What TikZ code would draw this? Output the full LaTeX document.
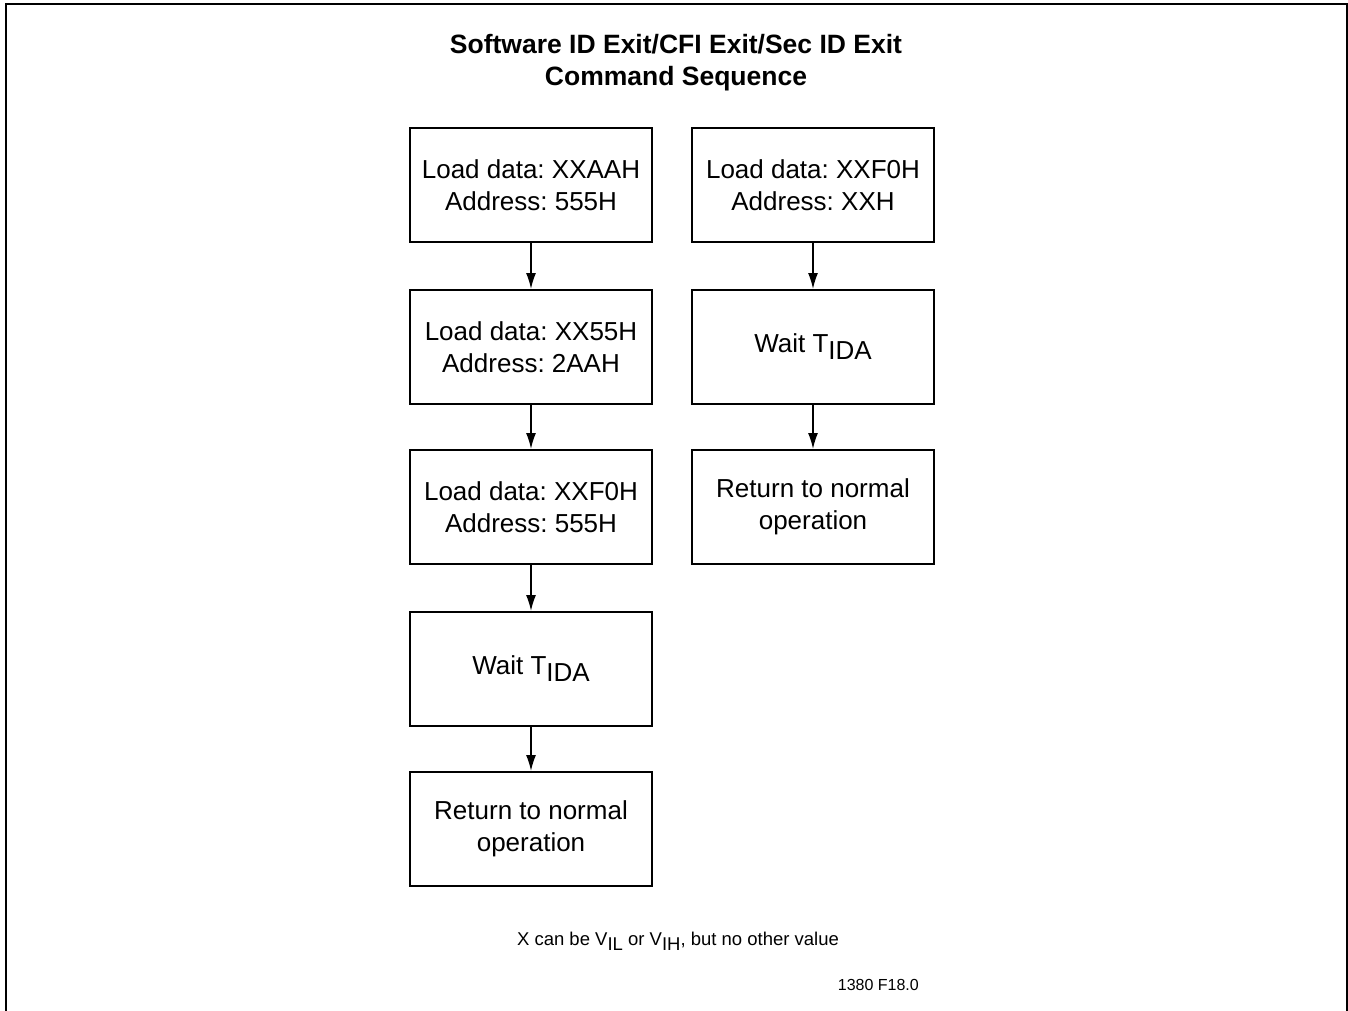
\documentclass[tikz,border=0pt]{standalone}
\usepackage{fontspec}
\setmainfont{Liberation Sans}
\usetikzlibrary{arrows.meta}
\frenchspacing
\begin{document}
\begin{tikzpicture}[x=1pt,y=-1pt,
  stepbox/.style={draw,line width=2pt,minimum width=242pt,minimum height=114pt,inner sep=0pt,align=center,font=\fontsize{26}{32}\selectfont},
  flow/.style={-{Latex[length=16pt,width=10pt]},line width=1.5pt},
  lbl/.style={inner sep=0pt,align=center}]
\useasboundingbox (0,0) rectangle (1348,1010);
\draw[line width=2pt] (6,1012) -- (6,4) -- (1346.5,4) -- (1346.5,1012);
\node[lbl,font=\bfseries\fontsize{26.5}{32}\selectfont] (title) at (676,63) {Software ID Exit/CFI Exit/Sec ID Exit\\Command Sequence};
\node[stepbox] (a1) at (531,185) {Load data: XXAAH\\Address: 555H};
\node[stepbox] (a2) at (531,347) {Load data: XX55H\\Address: 2AAH};
\node[stepbox] (a3) at (531,507) {Load data: XXF0H\\Address: 555H};
\node[stepbox] (a4) at (531,669) {Wait T\raisebox{-7pt}{IDA}};
\node[stepbox] (a5) at (531,829) {Return to normal\\operation};
\node[stepbox] (b1) at (813,185) {Load data: XXF0H\\Address: XXH};
\node[stepbox] (b2) at (813,347) {Wait T\raisebox{-7pt}{IDA}};
\node[stepbox] (b3) at (813,507) {Return to normal\\operation};
\draw[flow] (a1) -- (a2);
\draw[flow] (a2) -- (a3);
\draw[flow] (a3) -- (a4);
\draw[flow] (a4) -- (a5);
\draw[flow] (b1) -- (b2);
\draw[flow] (b2) -- (b3);
\node[lbl,font=\fontsize{18.5}{22}\selectfont] (note) at (678,941) {X can be V\raisebox{-5pt}{IL} or V\raisebox{-5pt}{IH}, but no other value};
\node[lbl,anchor=east,font=\fontsize{16}{20}\selectfont] (fig) at (919,985) {1380 F18.0};
\end{tikzpicture}
\end{document}
